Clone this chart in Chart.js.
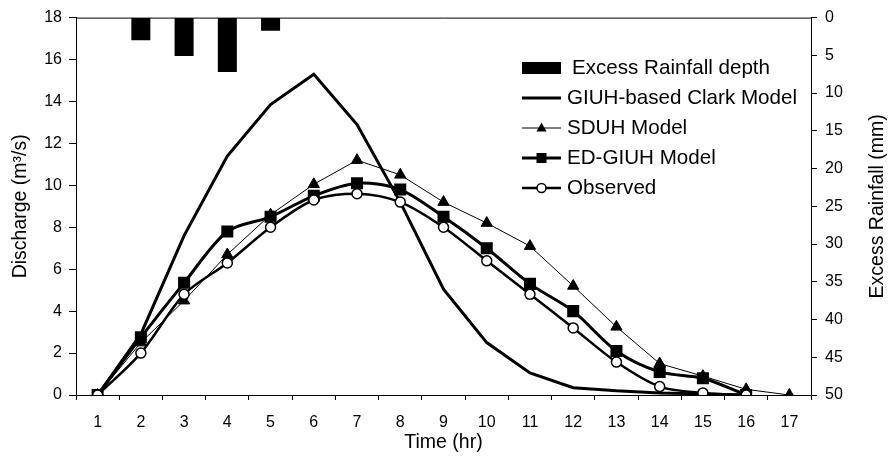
<!DOCTYPE html>
<html>
<head>
<meta charset="utf-8">
<script src="https://cdn.jsdelivr.net/npm/chart.js@4/dist/chart.umd.min.js"></script>
<style>
  html, body { margin: 0; padding: 0; background: #fff; }
  #wrap { width: 894px; height: 473px; }
</style>
</head>
<body>
<div id="wrap"><canvas id="c" width="894" height="473"></canvas></div>
<script>
const times = ['1','2','3','4','5','6','7','8','9','10','11','12','13','14','15','16','17'];
const rainfall = [null, 3.0, 5.1, 7.2, 1.75, null, null, null, null, null, null, null, null, null, null, null, null];
const clark = [0, 2.9, 7.6, 11.4, 13.85, 15.3, 12.9, 9.2, 5.05, 2.5, 1.05, 0.35, 0.2, 0.1, 0.05, 0, null];
const sduh = [0, 2.5, 4.5, 6.7, 8.6, 10.05, 11.2, 10.5, 9.2, 8.2, 7.1, 5.2, 3.25, 1.5, 0.9, 0.27, 0];
const edgiuh = [0, 2.75, 5.35, 7.8, 8.5, 9.5, 10.1, 9.8, 8.5, 7.0, 5.3, 4.0, 2.1, 1.1, 0.8, 0, null];
const observed = [0, 2.0, 4.8, 6.3, 8.0, 9.3, 9.6, 9.2, 8.0, 6.4, 4.8, 3.2, 1.57, 0.4, 0.1, 0, null];
const leftTicks = [0, 2, 4, 6, 8, 10, 12, 14, 16, 18];
const rightTicks = [0, 5, 10, 15, 20, 25, 30, 35, 40, 45, 50];
const legendLabels = ['Excess Rainfall depth', 'GIUH-based Clark Model', 'SDUH Model', 'ED-GIUH Model', 'Observed'];

const FONT = '"Liberation Sans", Arial, sans-serif';

const extras = {
  id: 'extras',
  afterDraw(chart) {
    const ctx = chart.ctx;
    const a = chart.chartArea;
    ctx.save();
    // top border of plot box
    ctx.strokeStyle = '#000';
    ctx.lineWidth = 1;
    ctx.beginPath();
    ctx.moveTo(a.left, a.top + 0.5);
    ctx.lineTo(a.right, a.top + 0.5);
    ctx.stroke();

    // right axis title, reading bottom-to-top
    ctx.fillStyle = '#000';
    ctx.font = '19.5px ' + FONT;
    ctx.textAlign = 'center';
    ctx.textBaseline = 'middle';
    ctx.translate(878, (a.top + a.bottom) / 2);
    ctx.rotate(-Math.PI / 2);
    ctx.fillText('Excess Rainfall (mm)', 0, 0);
    ctx.restore();

    // legend
    ctx.save();
    const x0 = 522, x1 = 561, xm = (x0 + x1) / 2;
    const rows = [68, 98, 128, 158, 188];
    ctx.font = '20.6px ' + FONT;
    ctx.fillStyle = '#000';
    ctx.textBaseline = 'middle';
    ctx.textAlign = 'left';
    // bar swatch
    ctx.fillRect(x0, rows[0] - 6, x1 - x0, 12);
    ctx.fillText(legendLabels[0], 572, rows[0]);
    const lw = [3, 1, 3, 2.5];
    for (let i = 1; i < 5; i++) {
      ctx.strokeStyle = '#000';
      ctx.lineWidth = lw[i - 1];
      ctx.beginPath();
      ctx.moveTo(x0, rows[i]);
      ctx.lineTo(x1, rows[i]);
      ctx.stroke();
      ctx.fillText(legendLabels[i], 567, rows[i]);
    }
    // markers
    ctx.fillStyle = '#000'; ctx.strokeStyle = '#000';
    ctx.lineWidth = 1;
    ctx.beginPath(); ctx.moveTo(xm, rows[2] - 5.5); ctx.lineTo(xm + 5, rows[2] + 3.5); ctx.lineTo(xm - 5, rows[2] + 3.5); ctx.closePath(); ctx.fill();
    ctx.fillRect(xm - 5, rows[3] - 5, 10, 10);
    ctx.fillStyle = '#fff';
    ctx.lineWidth = 1.5;
    ctx.beginPath(); ctx.arc(xm, rows[4], 4.5, 0, Math.PI * 2); ctx.fill(); ctx.stroke();
    ctx.restore();
  }
};

const tickFont = { family: FONT, size: 16 };
const titleFont = { family: FONT, size: 19.5 };

new Chart(document.getElementById('c'), {
  type: 'bar',
  data: {
    labels: times,
    datasets: [
      {
        type: 'line', label: legendLabels[4], data: observed, yAxisID: 'y',
        borderColor: '#000', borderWidth: 2.5, tension: 0.3,
        pointStyle: 'circle', pointRadius: 5, pointBackgroundColor: '#fff', pointBorderColor: '#000', pointBorderWidth: 1.5,
        order: 1
      },
      {
        type: 'line', label: legendLabels[3], data: edgiuh, yAxisID: 'y',
        borderColor: '#000', borderWidth: 3, tension: 0.3,
        pointStyle: 'rect', pointRadius: 8.5, pointBackgroundColor: '#000', pointBorderColor: '#000', pointBorderWidth: 0,
        order: 2
      },
      {
        type: 'line', label: legendLabels[2], data: sduh, yAxisID: 'y',
        borderColor: '#000', borderWidth: 1, tension: 0,
        pointStyle: 'triangle', pointRadius: 6.5, pointBackgroundColor: '#000', pointBorderColor: '#000', pointBorderWidth: 1,
        order: 3
      },
      {
        type: 'line', label: legendLabels[1], data: clark, yAxisID: 'y',
        borderColor: '#000', borderWidth: 3, tension: 0, pointRadius: 0,
        order: 4
      },
      {
        type: 'bar', label: legendLabels[0], data: rainfall, yAxisID: 'y2',
        backgroundColor: '#000', borderWidth: 0,
        barPercentage: 0.44, categoryPercentage: 1,
        order: 5
      }
    ]
  },
  options: {
    responsive: false,
    animation: false,
    devicePixelRatio: 1,
    layout: { padding: { top: 14, left: 0, right: 0, bottom: 0 } },
    plugins: { legend: { display: false }, tooltip: { enabled: false } },
    scales: {
      x: {
        type: 'category', offset: true,
        grid: { display: true, drawOnChartArea: false, drawTicks: true, tickLength: 5, color: '#000', offset: true },
        border: { color: '#000', width: 1 },
        ticks: { font: tickFont, color: '#000', padding: 13, maxRotation: 0, autoSkip: false },
        title: { display: true, text: 'Time (hr)', font: titleFont, color: '#000', padding: { top: 0, bottom: 19 } },
        afterFit(s) { s.height = 78; }
      },
      y: {
        position: 'left', min: 0, max: 18,
        afterBuildTicks(s) { s.ticks = leftTicks.map(v => ({ value: v })); },
        grid: { display: true, drawOnChartArea: false, drawTicks: true, tickLength: 7, color: '#000' },
        border: { color: '#000', width: 1 },
        ticks: { font: tickFont, color: '#000', padding: 7 },
        title: { display: true, text: 'Discharge (m³/s)', font: titleFont, color: '#000', padding: { top: 9, bottom: 0 } },
        afterFit(s) { s.width = 76; }
      },
      y2: {
        position: 'right', min: 0, max: 50, reverse: true,
        afterBuildTicks(s) { s.ticks = rightTicks.map(v => ({ value: v })); },
        grid: { display: true, drawOnChartArea: false, drawTicks: true, tickLength: 6, color: '#000' },
        border: { color: '#000', width: 1 },
        ticks: { font: tickFont, color: '#000', padding: 8 },
        title: { display: false },
        afterFit(s) { s.width = 83; }
      }
    }
  },
  plugins: [extras]
});
</script>
</body>
</html>
